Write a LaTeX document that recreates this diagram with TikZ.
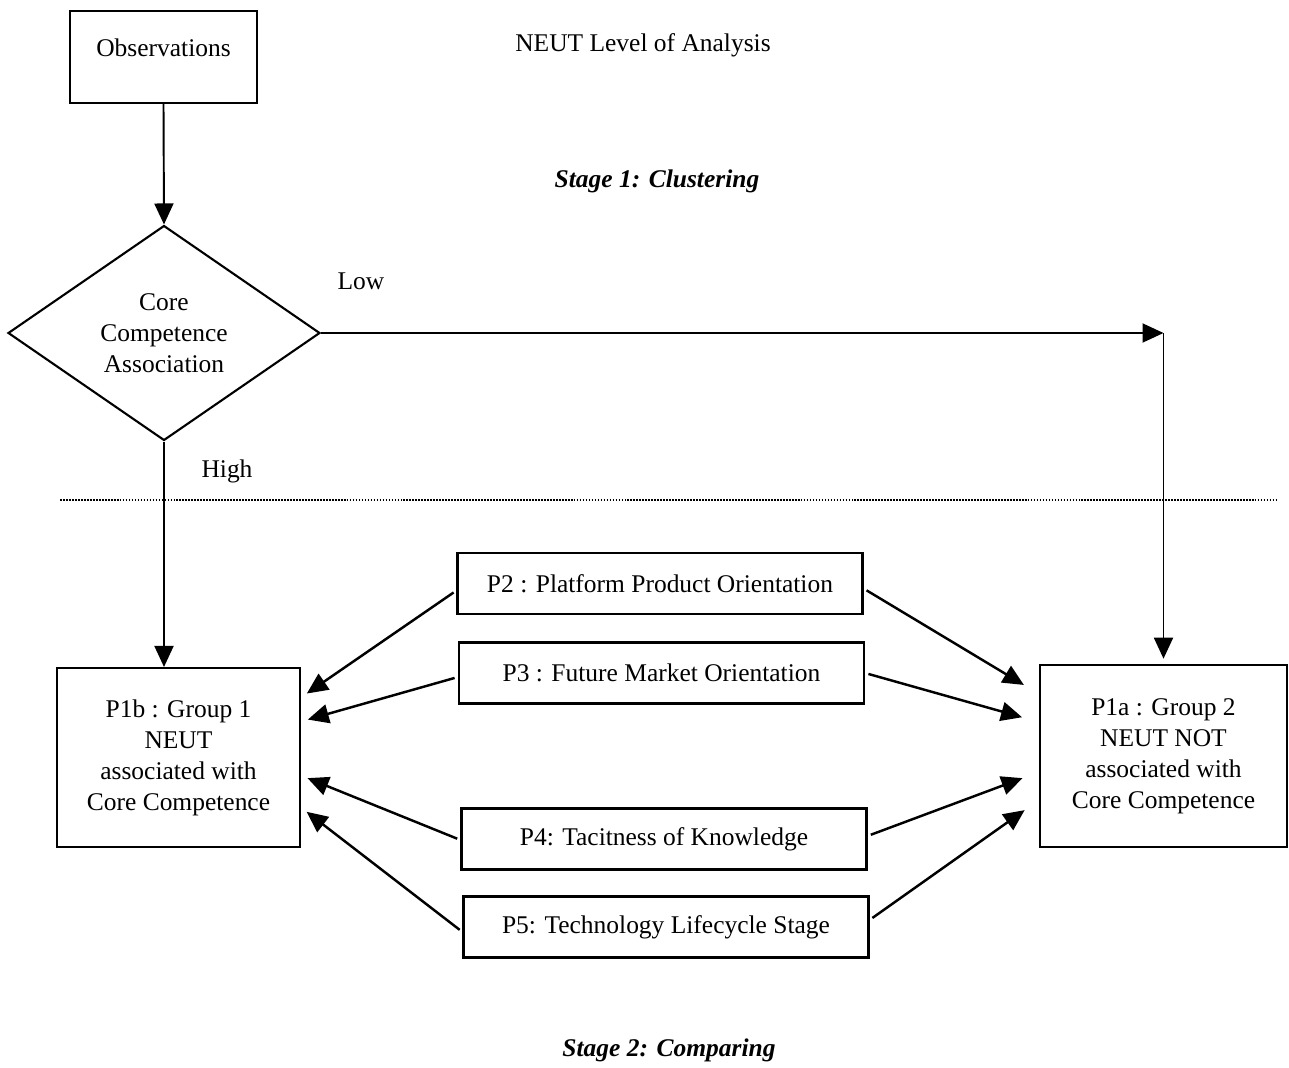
\documentclass[tikz,border=0pt]{standalone}
\usepackage{fontspec}
\setmainfont{Liberation Serif}
\usetikzlibrary{shapes.geometric, arrows.meta}
\usetikzlibrary{positioning,calc}

\begin{document}
\begin{tikzpicture}[x=0.02cm, y=-0.02cm,
        every node/.style={font=\fontsize{14.5}{17.6}\selectfont},
        box/.style={draw, line width=1.2pt, inner sep=0pt, align=center},
        pbox/.style={box, minimum width=8.1cm, minimum height=1.22cm},
        arr/.style={-{Triangle[length=0.42cm, width=0.38cm]}, line width=1.1pt},
        stagetitle/.style={font=\fontsize{14.5}{17.6}\selectfont\bfseries\itshape}]
    \useasboundingbox (0,0) rectangle (1289,1068);
    % stage 1
    \node [box, anchor=north, text width=3.74cm, text height=0.9cm, text depth=0.94cm]
        (obs) at (163.5,10) {Observations};
    \node [diamond, draw, line width=1.2pt, aspect=1.45, inner sep=0pt, align=center,
        minimum width=6.24cm, minimum height=4.3cm]
        (cca) at (164,333) {Core\\Competence\\Association};
    \node (level) at (643,45) {NEUT Level of Analysis};
    \node [stagetitle] (stage1) at (657,181) {Stage 1: Clustering};
    \node (low) at (361,281) {Low};
    \node (high) at (227,471) {High};
    \draw [line width=0.8pt, dash pattern=on 1pt off 0.7pt] (60,500) -- (1278,500);
    % stage 2
    \node [box, minimum width=4.86cm, minimum height=3.58cm] (p1b) at (178.5,757.5)
        {P1b : Group 1\\NEUT\\associated with\\Core Competence};
    \node [box, minimum width=4.94cm, minimum height=3.64cm] (p1a) at (1163.5,756)
        {P1a : Group 2\\NEUT NOT\\associated with\\Core Competence};
    \node [pbox] (p2) at (660,583.5) {P2 : Platform Product Orientation};
    \node [pbox] (p3) at (661.5,673) {P3 : Future Market Orientation};
    \node [pbox] (p4) at (664,839) {P4: Tacitness of Knowledge};
    \node [pbox] (p5) at (666,927) {P5: Technology Lifecycle Stage};
    \node [stagetitle] (stage2) at (669,1050) {Stage 2: Comparing};
    % connectors
    \coordinate (turn) at (p1a.north |- cca.east);
    \draw [arr] (obs.south) -- (cca.north);
    \draw [arr] (cca.east) -- (turn);
    \draw [arr, shorten >=3pt] (turn) -- (p1a.north);
    \draw [arr] (cca.south) -- (cca.south |- p1b.north);
    \foreach \p/\a/\b/\c/\d in {p2/7/-60/5/-62, p3/4/-36/0/-34, p4/1/18/-3/16, p5/5/50/-7/44}
    {
        \draw [arr, line width=1.4pt, shorten <=2pt, shorten >=4pt]
            ($(\p.west)+(0,\a)$) -- ($(p1b.east)+(0,\b)$);
        \draw [arr, line width=1.4pt, shorten <=2pt, shorten >=10pt]
            ($(\p.east)+(0,\c)$) -- ($(p1a.west)+(0,\d)$);
    }
\end{tikzpicture}
\end{document}
